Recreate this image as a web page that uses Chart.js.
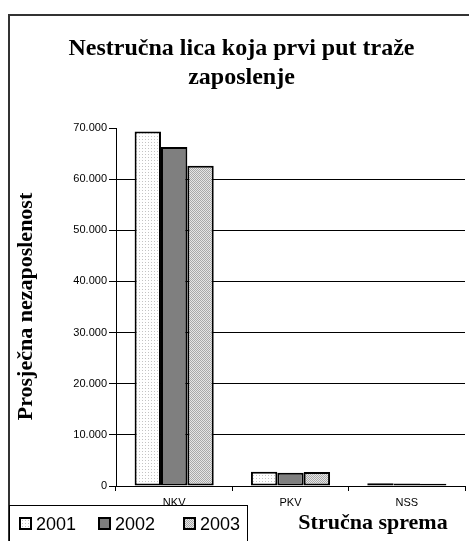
<!DOCTYPE html>
<html>
<head>
<meta charset="utf-8">
<style>
  html, body { margin: 0; padding: 0; background: #fff; }
  #wrap { width: 469px; height: 541px; position: relative; }
</style>
<script src="https://cdn.jsdelivr.net/npm/chart.js@4/dist/chart.umd.min.js"></script>
</head>
<body>
<div id="wrap"><canvas id="c" width="469" height="541"></canvas></div>
<script>
const categories = ['NKV', 'PKV', 'NSS'];
const seriesNames = ['2001', '2002', '2003'];
const values2001 = [69300, 2800, 550];
const values2002 = [66300, 2600, 470];
const values2003 = [62600, 2750, 450];
const yTickLabels = ['0', '10.000', '20.000', '30.000', '40.000', '50.000', '60.000', '70.000'];
const titleLines = ['Nestručna lica koja prvi put traže', 'zaposlenje'];
const yTitle = 'Prosječna nezaposlenost';
const xTitle = 'Stručna sprema';

function makePattern(kind) {
  const p = document.createElement('canvas');
  const ctx = p.getContext('2d');
  if (kind === 'dots') {
    p.width = 3; p.height = 3;
    ctx.fillStyle = '#ffffff'; ctx.fillRect(0, 0, 3, 3);
    ctx.fillStyle = '#c4c4c4'; ctx.fillRect(1, 1, 1, 1);
  } else if (kind === 'checker') {
    p.width = 2; p.height = 2;
    ctx.fillStyle = '#e6e6e6'; ctx.fillRect(0, 0, 2, 2);
    ctx.fillStyle = '#a9a9a9'; ctx.fillRect(0, 0, 1, 1); ctx.fillRect(1, 1, 1, 1);
  } else {
    p.width = 1; p.height = 1;
    ctx.fillStyle = '#7f7f7f'; ctx.fillRect(0, 0, 1, 1);
  }
  return document.getElementById('c').getContext('2d').createPattern(p, 'repeat');
}
const fills = [makePattern('dots'), makePattern('solid'), makePattern('checker')];

const decor = {
  id: 'decor',
  afterDraw(chart) {
    const ctx = chart.ctx;
    ctx.save();
    // outer frame
    ctx.strokeStyle = '#333';
    ctx.lineWidth = 2;
    ctx.strokeRect(9, 15, 520, 600);
    // title
    ctx.fillStyle = '#000';
    ctx.textAlign = 'center';
    ctx.textBaseline = 'alphabetic';
    ctx.font = 'bold 24px "Liberation Serif"';
    ctx.fillText(titleLines[0], 241.5, 55);
    ctx.fillText(titleLines[1], 241.5, 84);
    // y title
    ctx.save();
    ctx.translate(26, 306.5);
    ctx.rotate(-Math.PI / 2);
    ctx.textBaseline = 'middle';
    ctx.font = 'bold 22px "Liberation Serif"';
    ctx.fillText(yTitle, 0, 0);
    ctx.restore();
    // x title
    ctx.textBaseline = 'middle';
    ctx.font = 'bold 22px "Liberation Serif"';
    ctx.fillText(xTitle, 373, 523);
    // legend box
    ctx.fillStyle = '#fff';
    ctx.fillRect(10, 506, 237, 40);
    ctx.strokeStyle = '#000';
    ctx.lineWidth = 1;
    ctx.strokeRect(9.5, 505.5, 238, 60);
    const xs = [20, 99, 184];
    ctx.font = '18px "Liberation Sans"';
    ctx.textAlign = 'left';
    ctx.textBaseline = 'middle';
    chart.data.datasets.forEach((ds, i) => {
      ctx.fillStyle = ds.backgroundColor;
      ctx.fillRect(xs[i], 518, 11, 11);
      ctx.strokeStyle = '#000';
      ctx.lineWidth = 2;
      ctx.strokeRect(xs[i], 518, 11, 11);
      ctx.fillStyle = '#000';
      ctx.fillText(ds.label, xs[i] + 16, 525);
    });
    ctx.restore();
  }
};

const seriesValues = [values2001, values2002, values2003];
new Chart(document.getElementById('c'), {
  type: 'bar',
  data: {
    labels: categories,
    datasets: seriesNames.map((n, i) => ({
      label: n,
      data: seriesValues[i],
      backgroundColor: fills[i],
      borderColor: '#000',
      borderWidth: 2,
      borderSkipped: false,
      categoryPercentage: 0.68,
      barPercentage: 1.0
    }))
  },
  options: {
    responsive: false,
    animation: false,
    devicePixelRatio: 1,
    layout: { padding: { left: 0, top: 128, right: 4, bottom: 0 } },
    plugins: { legend: { display: false }, title: { display: false }, tooltip: { enabled: false } },
    scales: {
      x: {
        afterFit(s) { s.height = 55; },
        grid: { display: true, drawOnChartArea: false, offset: true, color: '#000', tickLength: 5, lineWidth: 1 },
        border: { display: true, color: '#000', width: 1 },
        ticks: { color: '#000', font: { family: 'Liberation Sans', size: 11 }, padding: 5 }
      },
      y: {
        min: 0, max: 70000,
        afterFit(s) { s.width = 116; },
        grid: {
          color: (c) => (c.tick && (c.tick.value === 70000 || c.tick.value === 0)) ? 'rgba(0,0,0,0)' : '#000',
          tickColor: '#000', tickLength: 7, lineWidth: 1
        },
        border: { display: true, color: '#000', width: 1 },
        ticks: {
          stepSize: 10000,
          color: '#000',
          font: { family: 'Liberation Sans', size: 11 },
          padding: 2,
          callback: (v, i) => yTickLabels[i]
        }
      }
    }
  },
  plugins: [decor]
});
</script>
</body>
</html>
